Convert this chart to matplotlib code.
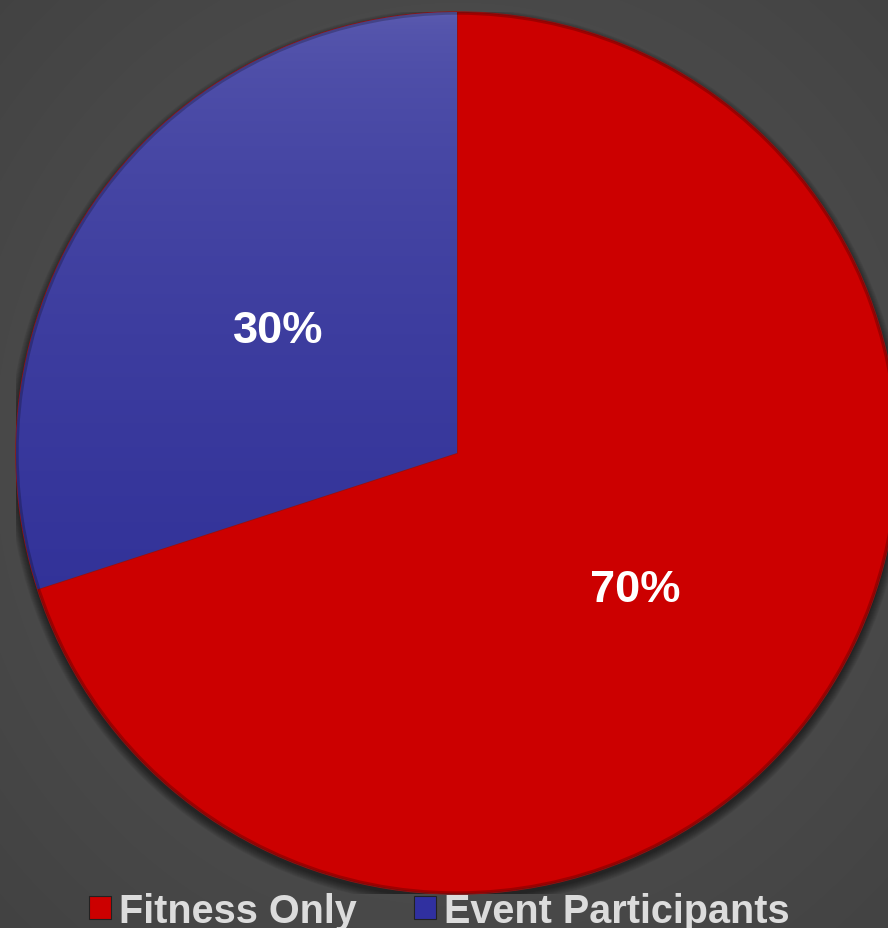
import numpy as np
import matplotlib
matplotlib.use("Agg")
import matplotlib.pyplot as plt
from matplotlib.patches import Patch, Circle

# ─────────────────────────────────────────────
# DATA
# ─────────────────────────────────────────────
labels  = ["Fitness Only", "Event Participants"]
shares  = [70, 30]
colours = ["#cc0000", "#3030a0"]

plt.rcParams['font.family'] = ['Liberation Sans', 'DejaVu Sans']

W, H = 888, 929
fig = plt.figure(figsize=(W / 100, H / 100), dpi=100)

# ── background: soft radial grey ─────────────
bg = fig.add_axes([0, 0, 1, 1], zorder=0)
yy, xx = np.mgrid[0:H, 0:W]
r = np.hypot((xx - 457) / W, (yy - 455) / H)
r = np.clip(r / r.max(), 0, 1)
val = 0.34 - 0.08 * r
bg.imshow(np.dstack([val, val, val]), extent=[0, W, H, 0], aspect="auto")
bg.axis("off")

# ── pie axes ─────────────────────────────────
cx, cy, rad = 457, 454, 441
ax = fig.add_axes([(cx - rad) / W, (H - cy - rad) / H, 2 * rad / W, 2 * rad / H], zorder=1)

# soft shadow under the disc
for k in range(10):
    ax.add_patch(Circle((0, -0.01), 1.0 + 0.002 * k, color="black",
                        alpha=0.06, lw=0, zorder=0))

wedges, _, autotexts = ax.pie(
    shares, colors=colours, startangle=90, counterclock=False, radius=1.0,
    autopct="%d%%", pctdistance=0.5,
    wedgeprops=dict(edgecolor="#9a1010", linewidth=1.0),
    textprops=dict(color="white", fontsize=32.5, fontweight="bold"),
)
for w in wedges:
    w.set_zorder(2)
for t in autotexts:
    t.set_zorder(5)
    x, y = t.get_position()
    t.set_position((x, y - 0.015))

# vertical shading on the blue slice
grad = np.linspace(0, 1, 256) ** 0.5
top, bot = np.array([0.36, 0.36, 0.69]), np.array([0.16, 0.16, 0.58])
img = top + (bot - top) * grad[:, None, None]
img = np.repeat(img, 2, axis=1)
im = ax.imshow(img, extent=[-1, 1, -1, 1], origin="upper", zorder=3,
               interpolation="bilinear")
im.set_clip_path(wedges[1])
ax.set_xlim(-1, 1)
ax.set_ylim(-1, 1)
ax.set_aspect("equal")
ax.axis("off")

# rim darkening
ax.add_patch(Circle((0, 0), 0.997, fill=False, edgecolor="#000000",
                    alpha=0.22, lw=2.0, zorder=4))

# ── legend ───────────────────────────────────
handles = [Patch(facecolor=c, edgecolor="#222222", linewidth=0.8) for c in colours]
leg = fig.legend(handles, labels, loc="lower center", ncol=2,
                 bbox_to_anchor=(0.495, -0.040), frameon=False,
                 prop=dict(size=28.5, weight="bold"),
                 handlelength=0.55, handleheight=0.55, handletextpad=0.2,
                 columnspacing=1.45)
leg.set_zorder(10)
for t in leg.get_texts():
    t.set_color("#dcdcdc")

fig.savefig("out.png", dpi=100)
